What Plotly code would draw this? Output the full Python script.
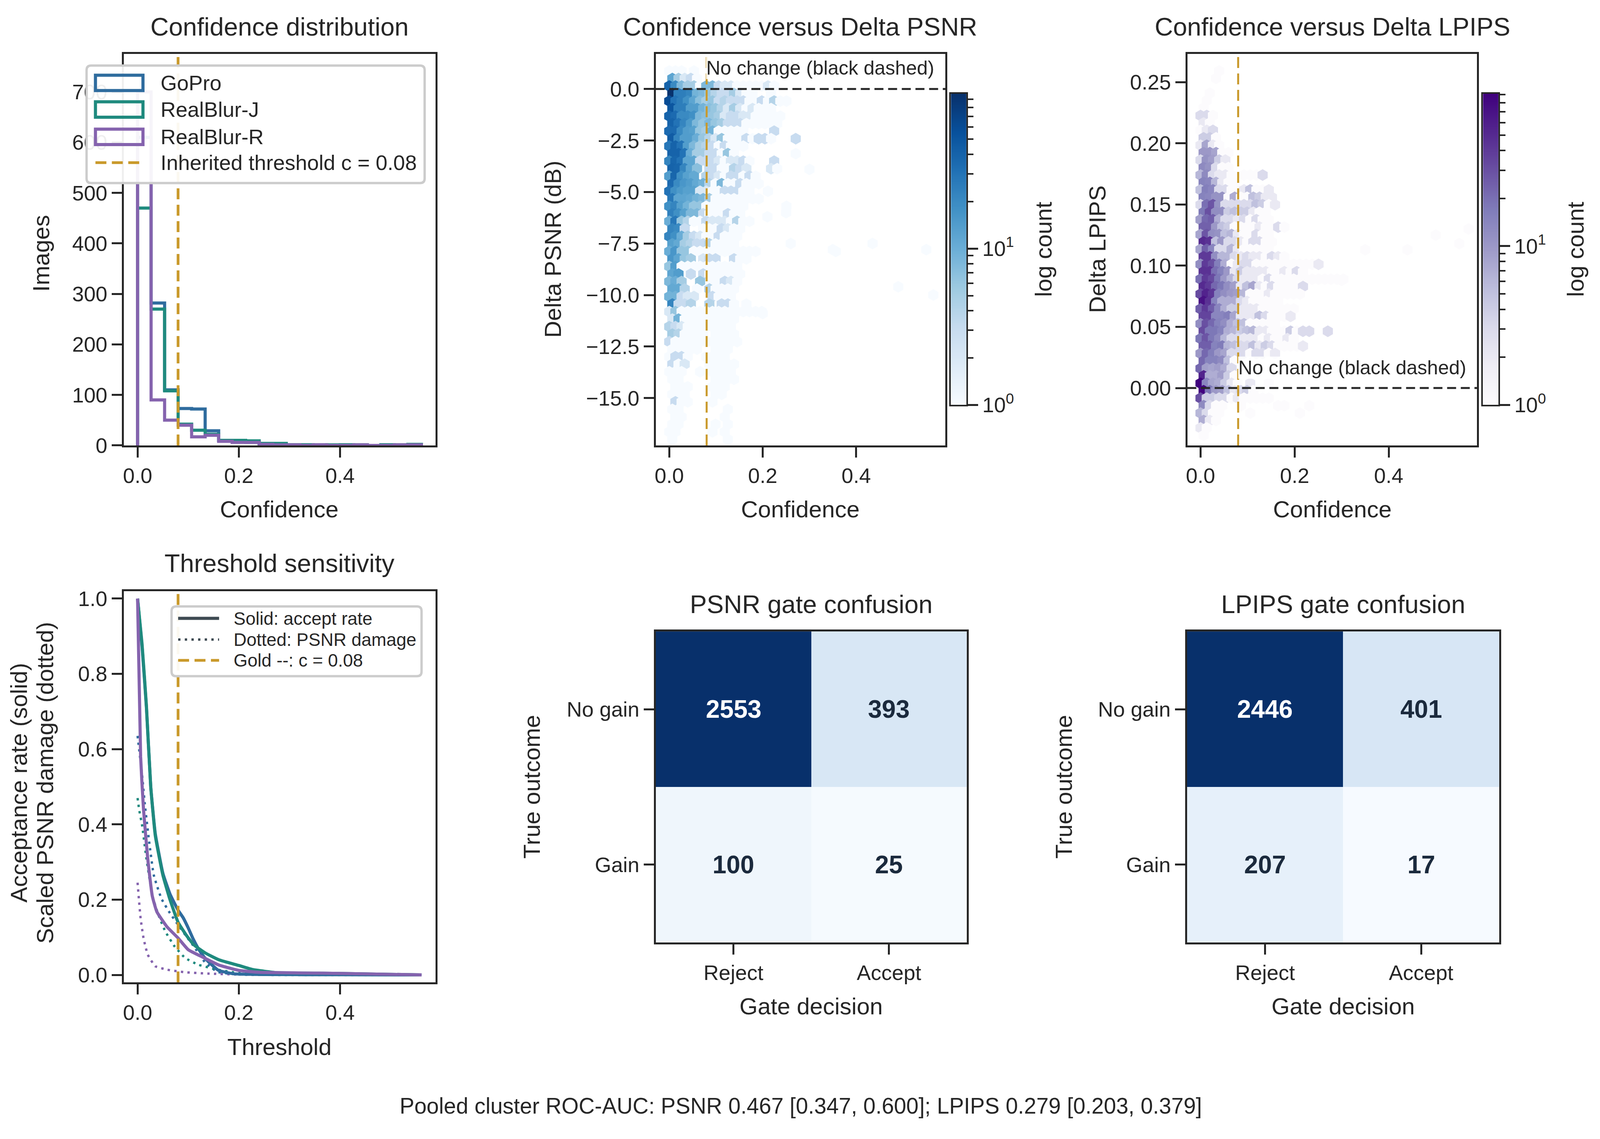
import numpy as np
import plotly.graph_objects as go

# the browser viewport stops at 4096 wide, so the figure is laid out to that and positions are kept as fractions
W, H = 4137, 2915
FIG_W = 4096
FONT = "Liberation Sans"
INK = "#262626"
GOLD = "#C9992A"

dataset_names = ["GoPro", "RealBlur-J", "RealBlur-R"]
dataset_colors = ["#2F6C9E", "#1F8A7E", "#8563AE"]

# histogram of confidence per dataset
hist_edges = [0.0, 0.0267, 0.0534, 0.0801, 0.1068, 0.1335, 0.1602, 0.1869, 0.2136, 0.2403, 0.267, 0.2937,
              0.3204, 0.3471, 0.3738, 0.4005, 0.4272, 0.4539, 0.4806, 0.5073, 0.534, 0.5608]
hist_gopro = [610, 282, 110, 73, 72, 29, 10, 10, 6, 3, 3, 1, 1, 1, 0, 1, 0, 0, 1, 0, 0]
hist_realblur_j = [470, 270, 108, 42, 30, 22, 10, 10, 9, 4, 4, 1, 1, 0, 1, 1, 1, 0, 1, 1, 2]
hist_realblur_r = [700, 90, 50, 40, 17, 20, 8, 6, 6, 2, 1, 1, 0, 1, 0, 0, 1, 0, 0, 1, 1]

# threshold sensitivity, accept rate (solid)
acc_gopro_x = [0, 0.009, 0.0175, 0.026, 0.035, 0.05, 0.064, 0.08, 0.09, 0.1, 0.11, 0.12, 0.13, 0.14, 0.16, 0.19, 0.25, 0.4, 0.561]
acc_gopro_y = [1.0, 0.87, 0.71, 0.5, 0.375, 0.27, 0.215, 0.172, 0.152, 0.125, 0.095, 0.07, 0.05, 0.035, 0.012, 0.003, 0.001, 0.0005, 0]
acc_j_x = [0, 0.0088, 0.0175, 0.026, 0.035, 0.05, 0.064, 0.08, 0.0965, 0.111, 0.134, 0.161, 0.2, 0.228, 0.275, 0.4, 0.561]
acc_j_y = [1.0, 0.88, 0.714, 0.5, 0.37, 0.265, 0.2, 0.14, 0.105, 0.08, 0.058, 0.04, 0.025, 0.014, 0.006, 0.004, 0]
acc_r_x = [0, 0.006, 0.0117, 0.02, 0.029, 0.038, 0.058, 0.08, 0.1, 0.129, 0.161, 0.2, 0.24, 0.4, 0.561]
acc_r_y = [1.0, 0.58, 0.44, 0.31, 0.21, 0.168, 0.128, 0.098, 0.067, 0.047, 0.026, 0.012, 0.007, 0.004, 0]

# threshold sensitivity, scaled damage (dotted)
dmg_gopro_x = [0, 0.009, 0.0146, 0.023, 0.032, 0.047, 0.064, 0.08, 0.0965, 0.111, 0.134, 0.158, 0.2, 0.561]
dmg_gopro_y = [0.635, 0.53, 0.45, 0.353, 0.265, 0.203, 0.164, 0.133, 0.102, 0.076, 0.032, 0.008, 0.001, 0]
dmg_j_x = [0, 0.003, 0.009, 0.0175, 0.029, 0.041, 0.055, 0.073, 0.094, 0.12, 0.158, 0.2, 0.561]
dmg_j_y = [0.47, 0.44, 0.397, 0.309, 0.212, 0.16, 0.115, 0.076, 0.045, 0.027, 0.014, 0.005, 0]
dmg_r_x = [0, 0.003, 0.006, 0.0117, 0.02, 0.035, 0.058, 0.094, 0.14, 0.2, 0.561]
dmg_r_y = [0.245, 0.195, 0.15, 0.098, 0.054, 0.023, 0.014, 0.007, 0.0035, 0.001, 0]

# hexbin counts: one list per hex row from the top, column 0 nearest confidence 0
conf_step = 0.0132
psnr_top = 0.875
psnr_row_step = 0.365
psnr_counts = [
    [1, 1, 1, 0, 1],
    [12, 5, 2, 3, 1],
    [40, 20, 8, 5, 5, 1, 8, 8, 3, 2, 2, 1, 1, 1, 1, 1, 2, 1],
    [95, 25, 25, 22, 9, 8, 6, 4, 3, 3, 5, 2, 1, 1, 0, 0, 1],
    [60, 30, 25, 18, 12, 7, 5, 6, 3, 4, 3, 3, 3, 1, 1, 3, 1, 4, 1, 1],
    [50, 25, 25, 14, 14, 9, 7, 6, 4, 2, 5, 2, 1, 2, 1, 1, 1],
    [40, 35, 20, 20, 18, 8, 7, 6, 5, 2, 3, 3, 2, 2, 1, 1, 1, 1, 1],
    [40, 30, 22, 15, 8, 6, 8, 6, 5, 3, 3, 3, 1, 1, 1, 1, 1, 1],
    [35, 35, 20, 14, 13, 6, 5, 9, 1, 1, 1, 1, 1, 0, 0, 0, 0, 3],
    [45, 22, 14, 14, 10, 6, 4, 2, 6, 1, 1, 1, 3, 1, 3, 3, 1, 0, 0, 0, 3],
    [28, 40, 30, 14, 8, 5, 4, 3, 1, 3, 1, 1, 1],
    [40, 40, 30, 10, 5, 5, 3, 3, 1, 6, 1, 0, 0, 0, 0, 0, 0, 0, 0, 0, 1],
    [22, 38, 30, 12, 12, 3, 3, 3, 2, 1, 2, 2, 3, 1, 0, 0, 0, 3],
    [40, 38, 22, 12, 7, 0, 3, 3, 1, 1, 4, 3, 2, 0, 0, 0, 2, 1],
    [14, 38, 18, 13, 11, 0, 4, 3, 2, 1, 3, 3, 1, 3, 1],
    [35, 20, 16, 14, 11, 9, 4, 1, 8, 1, 1, 3, 1, 1, 1],
    [30, 18, 15, 13, 13, 2, 2, 1, 1, 3, 3, 3, 1, 1, 0, 0, 1],
    [28, 12, 12, 11, 9, 8, 5, 1, 1, 1, 1, 1, 1, 1, 1],
    [18, 22, 13, 9, 6, 6, 1, 1, 1, 1, 1, 1, 1, 0, 0, 0, 0, 0, 0, 1],
    [24, 18, 13, 8, 8, 3, 1, 1, 1, 3, 1, 1],
    [10, 28, 6, 4, 1, 1, 3, 2, 2, 2, 1, 4, 1, 1],
    [22, 20, 3, 0, 0, 1, 1, 1, 3, 2, 1, 1],
    [22, 18, 10, 5, 3, 2, 1, 1, 3, 1, 1, 1],
    [13, 11, 5, 4, 3, 3, 4, 1, 1, 1, 1],
    [10, 16, 6, 6, 1, 1, 1, 1, 1, 1, 1, 1, 1, 1, 1, 0, 0, 0, 0, 0, 0, 0, 0, 0, 0, 0, 0, 1],
    [16, 12, 6, 5, 0, 2, 3, 3, 0, 0, 3, 1, 1],
    [6, 14, 1, 1, 1, 1, 1, 1, 1, 1, 1, 1],
    [12, 14, 0, 3, 0, 3, 1, 1, 1, 1, 1, 1],
    [8, 10, 5, 0, 0, 6, 0, 1, 1, 3, 2, 1],
    [11, 11, 4, 0, 1, 0, 4, 1, 1, 1, 1],
    [9, 9, 3, 2, 2, 0, 0, 3, 1, 1, 1],
    [22, 3, 3, 4, 0, 0, 4, 0, 3, 3, 1, 0, 1],
    [2, 6, 1, 1, 1, 1, 1, 1, 1, 1, 1, 1, 1, 1, 1, 1],
    [2, 9, 1, 1, 1, 1, 1, 1, 1, 1, 1],
    [4, 3, 2, 1, 1, 1, 1, 1, 1, 1, 1],
    [5, 4, 1, 1, 1, 1, 0, 1, 1, 1, 1],
    [3, 1, 1, 1, 1, 1, 1, 1, 1, 1, 1, 1],
    [1, 1, 1, 1, 1, 0, 0, 1, 1, 1],
    [1, 3, 3, 1, 0, 0, 1, 1, 1, 1],
    [3, 1, 2, 0, 0, 0, 1, 1, 1, 1, 1],
    [1, 1, 1, 0, 0, 1, 0, 1, 1, 1, 1],
    [1, 1, 0, 0, 0, 0, 0, 1, 1, 1, 1],
    [0, 1, 1, 1, 0, 0, 0, 1, 1, 1],
    [1, 1, 1, 0, 0, 0, 0, 1, 1],
    [0, 3, 1, 1, 0, 0, 0, 1],
    [1, 1, 0, 0, 0, 0, 0, 0, 0, 1],
    [0, 1, 1, 0, 0, 0, 0, 0, 0, 1],
    [1, 1, 0, 0, 0, 0, 0, 1, 0, 1],
    [1, 1, 0, 0, 0, 0, 0, 1, 0, 1],
    [1, 0, 0, 0, 0, 0, 0, 0, 0, 1],
]
psnr_far_conf = [0.26, 0.35, 0.435, 0.55, 0.49, 0.565, 0.2, 0.3, 0.25, 0.21]
psnr_far_delta = [-7.5, -7.8, -7.5, -7.8, -9.6, -10.0, -10.9, -3.9, -6.0, -6.2]

lpips_top = 0.2592
lpips_row_step = 0.00608
lpips_counts = [
    [0, 0, 0, 1],
    [0, 0, 1],
    [],
    [0, 1],
    [0, 1],
    [1],
    [3, 3, 1],
    [2, 1],
    [1, 2, 3],
    [4, 4, 1],
    [2, 8, 2, 1],
    [10, 10, 8, 1, 1],
    [3, 11, 9, 4, 2],
    [13, 11, 3, 1, 1],
    [6, 13, 3, 2, 2, 1, 0, 1, 1, 1, 3],
    [15, 14, 6, 2, 1, 1],
    [5, 16, 14, 3, 3, 1, 1, 2, 5, 1, 1, 2],
    [15, 14, 11, 11, 1, 7, 1, 1, 5, 4, 2, 2],
    [3, 20, 28, 11, 3, 3, 3, 3, 3, 5, 4, 1, 2],
    [18, 30, 12, 12, 4, 5, 4, 4, 2, 1, 1],
    [9, 22, 25, 7, 3, 3, 2, 3, 1, 3, 1, 1],
    [24, 24, 10, 5, 4, 1, 1, 1, 1, 2, 1, 1, 3, 1],
    [8, 28, 12, 11, 5, 6, 2, 1, 1, 3, 1, 1],
    [50, 45, 5, 10, 3, 3, 2, 1, 3, 3, 1, 1],
    [8, 25, 14, 3, 3, 6, 2, 1, 1, 1, 1, 1],
    [40, 40, 12, 6, 6, 3, 2, 3, 2, 2, 1, 3, 2, 1],
    [12, 40, 30, 16, 7, 1, 2, 3, 3, 1, 1, 1, 1, 1, 1, 1, 1, 1, 1, 2],
    [45, 45, 20, 15, 10, 2, 4, 2, 2, 2, 2, 1, 1, 2, 1, 3, 1],
    [20, 40, 32, 18, 10, 6, 3, 2, 2, 2, 1, 3, 1, 1, 1, 1, 1, 1, 1, 1, 1, 1, 1, 1],
    [50, 40, 22, 18, 12, 9, 2, 5, 8, 2, 1, 3, 1, 1, 1, 1, 3],
    [32, 55, 42, 15, 12, 10, 9, 6, 1, 1, 1, 2, 1, 1, 1, 1, 1],
    [70, 45, 15, 7, 7, 7, 3, 2, 1, 1, 1, 1, 1],
    [25, 40, 25, 14, 7, 4, 4, 2, 2, 2, 1, 1, 1, 1, 1, 1],
    [35, 35, 14, 14, 16, 8, 2, 2, 2, 5, 3, 1, 1, 1, 2],
    [12, 30, 22, 15, 12, 7, 5, 5, 1, 1, 1, 1, 1],
    [32, 18, 18, 15, 7, 6, 4, 5, 6, 2, 2, 1, 1, 1, 4, 1, 3, 3, 0, 0, 3],
    [18, 28, 18, 13, 6, 3, 3, 2, 2, 2, 1, 2, 1, 1, 2, 1],
    [25, 25, 15, 17, 6, 5, 3, 3, 5, 2, 4, 3, 1, 1, 1, 1, 2],
    [10, 22, 16, 10, 8, 3, 3, 3, 1, 3, 3, 1, 2],
    [22, 15, 15, 13, 5, 1],
    [22, 9, 8, 9, 7, 3],
    [55, 7, 7, 9, 4, 1],
    [90, 14, 8, 7, 4, 2, 1, 0, 2, 0, 0, 1],
    [85, 18, 10, 9, 5, 2, 3, 4, 1],
    [30, 4, 4, 3, 3, 1, 2, 1, 1, 1, 1, 1],
    [13, 3, 1, 1, 0, 0, 1, 0, 0, 0, 0, 0, 1, 1, 0, 0, 0, 1],
    [6, 3, 1, 1, 0, 0, 0, 0, 1, 0, 0, 0, 0, 0, 0, 0, 1],
    [7, 2, 1],
    [2, 1],
    [1],
]
lpips_far_conf = [0.35, 0.44, 0.5, 0.55, 0.57, 0.3]
lpips_far_delta = [0.113, 0.113, 0.125, 0.118, 0.13, 0.088]

# gate confusion matrices
gate_x = ["Reject", "Accept"]
gate_y = ["No gain", "Gain"]
psnr_gate = [[2553, 393], [100, 25]]
lpips_gate = [[2446, 401], [207, 17]]

threshold = 0.08
footer = "Pooled cluster ROC-AUC: PSNR 0.467 [0.347, 0.600]; LPIPS 0.279 [0.203, 0.379]"

BLUES = ["#f7fbff", "#deebf7", "#c6dbef", "#9ecae1", "#6baed6", "#4292c6", "#2171b5", "#08519c", "#08306b"]
PURPLES = ["#fcfbfd", "#efedf5", "#dadaeb", "#bcbddc", "#9e9ac8", "#807dba", "#6a51a3", "#54278f", "#3f007d"]


def scale(colors):
    return [[i / (len(colors) - 1), c] for i, c in enumerate(colors)]


def px_x(x):
    return x / W


def px_y(y):
    return 1 - y / H


fig = go.Figure()
shapes = []
notes = []


def add_axes(n, box, xr, yr, xticks=None, yticks=None, xtext=None, ytext=None, yside="left", lw=5, **yextra):
    left, right, top, bottom = box
    xa = dict(domain=[px_x(left), px_x(right)], range=xr, anchor="y%d" % n, showgrid=False, zeroline=False,
              showline=True, mirror=True, linecolor=INK, linewidth=lw, ticks="outside" if xticks else "",
              ticklen=26, tickwidth=5, tickcolor=INK, tickfont=dict(size=54, color=INK, family=FONT),
              showticklabels=bool(xticks), tickmode="array", tickvals=xticks or [], ticktext=xtext)
    ya = dict(domain=[px_y(bottom), px_y(top)], range=yr, anchor="x%d" % n, showgrid=False, zeroline=False,
              showline=True, mirror=True, linecolor=INK, linewidth=lw, ticks="outside" if yticks else "",
              ticklen=26, tickwidth=5, tickcolor=INK, tickfont=dict(size=54, color=INK, family=FONT),
              showticklabels=bool(yticks), tickmode="array", tickvals=yticks or [], ticktext=ytext, side=yside)
    ya.update(yextra)
    fig.update_layout({"xaxis%d" % n: xa, "yaxis%d" % n: ya})


def note(text, x, y, size=60, angle=0, color=INK, bold=False, xanchor="center", bg=None):
    notes.append(dict(text=text, x=px_x(x), y=px_y(y), xref="paper", yref="paper", showarrow=False,
                      xanchor=xanchor, yanchor="middle", textangle=angle, bgcolor=bg, borderpad=0,
                      font=dict(size=size, color=color, family=FONT, weight="bold" if bold else "normal")))


def vline(n, y0, y1, width):
    fig.add_trace(go.Scatter(x=[threshold, threshold], y=[y0, y1], mode="lines", xaxis="x%d" % n, yaxis="y%d" % n,
                             line=dict(color=GOLD, width=width, dash="28px,14px"), showlegend=False))


def hexbin(n, rows, top, step, far_conf, far_delta, colors, cmax):
    xs, ys, cs = [], [], []
    for r, row in enumerate(rows):
        shift = 0.5 if r % 2 else 0.0
        for k, c in enumerate(row):
            if c > 0:
                xs.append((k + shift) * conf_step)
                ys.append(top - r * step)
                cs.append(np.log10(c))
    xs += far_conf
    ys += far_delta
    cs += [0.0] * len(far_conf)
    fig.add_trace(go.Scatter(x=xs, y=ys, mode="markers", xaxis="x%d" % n, yaxis="y%d" % n, showlegend=False,
                             marker=dict(symbol="hexagon", size=30, color=cs, colorscale=scale(colors),
                                         cmin=0, cmax=cmax, line=dict(width=0))))


def colorbar(n, box, colors, cmax):
    ramp = np.linspace(0, cmax, 300)
    fig.add_trace(go.Heatmap(z=[[v] for v in ramp], x=[0], y=ramp, colorscale=scale(colors), zmin=0, zmax=cmax,
                             showscale=False, xaxis="x%d" % n, yaxis="y%d" % n))
    minors = [np.log10(v) for v in [2, 3, 4, 5, 6, 7, 8, 9, 20, 30, 40, 50, 60, 70, 80, 90]]
    add_axes(n, box, [-0.5, 0.5], [0, cmax], yticks=[0, 1], ytext=["10<sup>0</sup>", "10<sup>1</sup>"], yside="right",
             lw=4, minor=dict(tickmode="array", tickvals=minors, ticks="outside", ticklen=14, tickwidth=4, tickcolor=INK))


def gate(n, box, z):
    zmax = max(max(r) for r in z)
    fig.add_trace(go.Heatmap(z=z, x=[0, 1], y=[0, 1], colorscale=scale(BLUES), zmin=0, zmax=zmax,
                             showscale=False, xaxis="x%d" % n, yaxis="y%d" % n))
    add_axes(n, box, [-0.5, 1.5], [1.5, -0.5], xticks=[0, 1], yticks=[0, 1], xtext=gate_x, ytext=gate_y)
    for i, row in enumerate(z):
        for j, v in enumerate(row):
            notes.append(dict(text=str(v), x=j, y=i, xref="x%d" % n, yref="y%d" % n, showarrow=False,
                              font=dict(size=64, family=FONT, weight="bold", color="white" if v > zmax / 2 else "#1B2A3D")))


# panel 1: histograms
box1 = (316, 1123, 129, 1145)
add_axes(1, box1, [-0.0275, 0.5885], [0, 775], xticks=[0, 0.2, 0.4], xtext=["0.0", "0.2", "0.4"],
         yticks=[0, 100, 200, 300, 400, 500, 600, 700], ytext=[str(v) for v in [0, 100, 200, 300, 400, 500, 600, 700]])
for name, color, counts in zip(dataset_names, dataset_colors, [hist_gopro, hist_realblur_j, hist_realblur_r]):
    fig.add_trace(go.Scatter(x=[hist_edges[0]] + hist_edges, y=[0] + counts + [0], mode="lines", name=name,
                             line=dict(color=color, width=8, shape="hv"), xaxis="x1", yaxis="y1", showlegend=False))
vline(1, 0, 775, 7)

# panel 2: delta psnr hexbin
hexbin(2, psnr_counts, psnr_top, psnr_row_step, psnr_far_conf, psnr_far_delta, BLUES, 1.99)
fig.add_trace(go.Scatter(x=[-0.029, 0.591], y=[0, 0], mode="lines", xaxis="x2", yaxis="y2", showlegend=False,
                         line=dict(color=INK, width=5, dash="23px,12px")))
vline(2, -17.3, 1.7, 5)
add_axes(2, (1693, 2443, 129, 1145), [-0.029, 0.591], [-17.3, 1.7], xticks=[0, 0.2, 0.4], xtext=["0.0", "0.2", "0.4"],
         yticks=[0, -2.5, -5, -7.5, -10, -12.5, -15], ytext=["0.0", "−2.5", "−5.0", "−7.5", "−10.0", "−12.5", "−15.0"])
colorbar(3, (2457, 2497, 232, 1040), BLUES, 1.99)

# panel 3: delta lpips hexbin
hexbin(4, lpips_counts, lpips_top, lpips_row_step, lpips_far_conf, lpips_far_delta, PURPLES, 1.96)
fig.add_trace(go.Scatter(x=[-0.028, 0.588], y=[0, 0], mode="lines", xaxis="x4", yaxis="y4", showlegend=False,
                         line=dict(color=INK, width=5, dash="23px,12px")))
vline(4, -0.0469, 0.273, 5)
add_axes(4, (3069, 3819, 129, 1145), [-0.028, 0.588], [-0.0469, 0.273], xticks=[0, 0.2, 0.4], xtext=["0.0", "0.2", "0.4"],
         yticks=[0, 0.05, 0.1, 0.15, 0.2, 0.25], ytext=["0.00", "0.05", "0.10", "0.15", "0.20", "0.25"])
colorbar(5, (3834, 3874, 232, 1040), PURPLES, 1.96)

# panel 4: threshold curves
add_axes(6, (316, 1123, 1523, 2539), [-0.0275, 0.5885], [-0.02, 1.02], xticks=[0, 0.2, 0.4], xtext=["0.0", "0.2", "0.4"],
         yticks=[0, 0.2, 0.4, 0.6, 0.8, 1.0], ytext=["0.0", "0.2", "0.4", "0.6", "0.8", "1.0"])
for color, dx, dy in zip(dataset_colors, [dmg_gopro_x, dmg_j_x, dmg_r_x], [dmg_gopro_y, dmg_j_y, dmg_r_y]):
    fig.add_trace(go.Scatter(x=dx, y=dy, mode="lines", xaxis="x6", yaxis="y6", showlegend=False,
                             line=dict(color=color, width=6, dash="6px,11px", shape="spline", smoothing=0.4)))
for color, ax, ay in zip(dataset_colors, [acc_gopro_x, acc_j_x, acc_r_x], [acc_gopro_y, acc_j_y, acc_r_y]):
    fig.add_trace(go.Scatter(x=ax, y=ay, mode="lines", xaxis="x6", yaxis="y6", showlegend=False,
                             line=dict(color=color, width=8, shape="spline", smoothing=0.4)))
vline(6, -0.02, 1.02, 7)

# panels 5, 6: confusion matrices
gate(7, (1693, 2498, 1628, 2435), psnr_gate)
gate(8, (3068, 3876, 1628, 2435), lpips_gate)

# titles and axis labels
for text, x, y in [("Confidence distribution", 719, 58), ("Confidence versus Delta PSNR", 2067, 58),
                   ("Confidence versus Delta LPIPS", 3444, 58), ("Threshold sensitivity", 719, 1451),
                   ("PSNR gate confusion", 2095, 1557), ("LPIPS gate confusion", 3472, 1557)]:
    note(text, x, y, size=65)
for text, x, y in [("Confidence", 719, 1311), ("Confidence", 2067, 1311), ("Confidence", 3444, 1311),
                   ("Threshold", 719, 2707), ("Gate decision", 2095, 2601), ("Gate decision", 3472, 2601)]:
    note(text, x, y)
for text, x, y in [("Images", 103, 646), ("Delta PSNR (dB)", 1427, 636), ("Delta LPIPS", 2836, 636),
                   ("log count", 2696, 636), ("log count", 4073, 636), ("Acceptance rate (solid)", 45, 2021),
                   ("Scaled PSNR damage (dotted)", 113, 2021), ("True outcome", 1372, 2031), ("True outcome", 2749, 2031)]:
    note(text, x, y, angle=-90)
note(footer, 2068, 2860, size=56.5)
note("No change (black dashed)", 1823, 165, size=50, xanchor="left", bg="rgba(255,255,255,0.85)")
note("No change (black dashed)", 3200, 943, size=50, xanchor="left", bg="rgba(255,255,255,0.85)")


def frame(x0, x1, y0, y1, r=12):
    # rounded legend box in paper units
    rx, ry = r / W, r / H
    a, b, t, u = px_x(x0), px_x(x1), px_y(y0), px_y(y1)
    path = (f"M {a + rx} {t} L {b - rx} {t} Q {b} {t} {b} {t - ry} L {b} {u + ry} Q {b} {u} {b - rx} {u} "
            f"L {a + rx} {u} Q {a} {u} {a} {u + ry} L {a} {t - ry} Q {a} {t} {a + rx} {t} Z")
    shapes.append(dict(type="path", path=path, xref="paper", yref="paper", layer="above",
                       fillcolor="rgba(255,255,255,0.93)", line=dict(color="#CCCCCC", width=6)))


def key_line(x0, x1, y, color, dash, width):
    shapes.append(dict(type="line", xref="paper", yref="paper", layer="above", x0=px_x(x0), x1=px_x(x1), y0=px_y(y),
                       y1=px_y(y), line=dict(color=color, width=width, dash=dash)))


# legend of panel 1
frame(220, 1095, 159, 464)
for name, color, y in zip(dataset_names, dataset_colors, [204, 273, 344]):
    shapes.append(dict(type="rect", xref="paper", yref="paper", layer="above", x0=px_x(243), x1=px_x(366),
                       y0=px_y(y + 20), y1=px_y(y - 20), fillcolor="rgba(0,0,0,0)", line=dict(color=color, width=8)))
    note(name, 410, y, size=54, xanchor="left")
key_line(243, 366, 411, GOLD, "28px,14px", 7)
note("Inherited threshold c = 0.08", 410, 411, size=54, xanchor="left")

# legend of panel 4
frame(440, 1087, 1563, 1744)
key_line(457, 563, 1594, "#3E4A52", "solid", 8)
key_line(457, 563, 1649, "#3E4A52", "6px,11px", 6)
key_line(457, 563, 1703, GOLD, "28px,14px", 7)
note("Solid: accept rate", 600, 1594, size=46, xanchor="left")
note("Dotted: PSNR damage", 600, 1649, size=46, xanchor="left")
note("Gold --: c = 0.08", 600, 1703, size=46, xanchor="left")

fig.update_layout(width=FIG_W, height=H, margin=dict(l=0, r=0, t=0, b=0), paper_bgcolor="white", plot_bgcolor="white",
                  font=dict(family=FONT, color=INK), shapes=shapes, annotations=notes, showlegend=False)
# body margin would push the plot off the page
fig.write_html("out.html", post_script="document.body.style.margin='0';", config={"displayModeBar": False})
